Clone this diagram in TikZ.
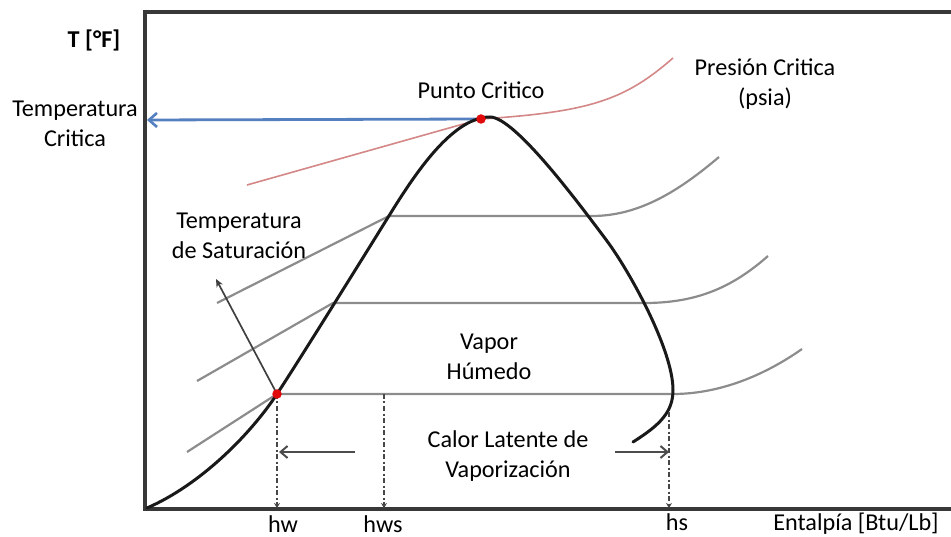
\documentclass[tikz,border=0pt]{standalone}
\usepackage{fontspec}
\setmainfont{Carlito}
\usetikzlibrary{arrows.meta}
\definecolor{critblue}{RGB}{84,128,192}
\definecolor{critred}{RGB}{212,135,135}
\definecolor{dotred}{RGB}{225,10,10}
\begin{document}
\begin{tikzpicture}[x=1pt,y=-1pt,
  lbl/.style={font=\fontsize{24.2}{30}\selectfont, align=center, inner sep=0pt},
  framel/.style={line width=3.2pt, draw=black!78, line join=miter},
  domel/.style={line width=3pt, draw=black!90, line cap=round},
  satl/.style={line width=2.2pt, draw=black!45},
  dropl/.style={line width=2pt, draw=black!72, dash pattern=on 5pt off 2.5pt on 2pt off 2.5pt, -{Stealth[length=5pt,width=6pt]}},
  harrow/.style={line width=2.2pt, draw=black!70, -{Straight Barb[length=7pt,width=12pt,line width=2pt]}},
  dotl/.style={circle, fill=dotred, inner sep=0pt, minimum size=9.5pt},
]
\useasboundingbox (0,0) rectangle (951,537);

% frame
\coordinate (TR) at (951,12);
\coordinate (TL) at (145,12);
\coordinate (BL) at (145,509);
\coordinate (BR) at (951,509);
\draw[framel] (TR) -- (TL) -- (BL) -- (BR);

% key points
\coordinate (CP) at (481,119);
\coordinate (W) at (277,394);
\coordinate (WS) at (384,394);
\coordinate (S) at (669,412);

% critical pressure line (red)
\coordinate (R0) at (247,185);
\coordinate (R1) at (673,58);
\draw[line width=1.6pt, critred] (R0) -- (CP) .. controls (590,112) and (625,100) .. (R1);

% saturation lines
\coordinate (A0) at (217,303);
\coordinate (A1) at (389,216);
\coordinate (A2) at (592,216);
\coordinate (A3) at (719,157);
\draw[satl] (A0) -- (A1) -- (A2) .. controls (640,216) and (680,190) .. (A3);
\coordinate (B0) at (197,381);
\coordinate (B1) at (333,303);
\coordinate (B2) at (645,303);
\coordinate (B3) at (768,256);
\draw[satl] (B0) -- (B1) -- (B2) .. controls (700,303) and (735,285) .. (B3);
\coordinate (C0) at (187,452);
\coordinate (C2) at (673,394);
\coordinate (C3) at (802,349);
\draw[satl] (C0) -- (W) -- (C2) .. controls (720,394) and (765,375) .. (C3);

% blue arrow (critical temperature)
\coordinate (TC) at (147,120);
\draw[line width=2.8pt, critblue, -{Straight Barb[length=8pt,width=14pt,line width=2.6pt]}] (CP) -- (TC);

% dome
\coordinate (D0) at (147,508);
\coordinate (D2) at (387,219);
\coordinate (D3) at (490,117);
\coordinate (D4) at (607,241);
\coordinate (D5) at (673,390);
\coordinate (D6) at (633,442);
\draw[domel] (D0) .. controls (200,485) and (250,435) .. (W)
  .. controls (300,359) and (364,256) .. (D2)
  .. controls (410,182) and (450,117) .. (D3)
  .. controls (515,117) and (580,205) .. (D4)
  .. controls (630,272) and (673,350) .. (D5)
  .. controls (673,412) and (660,425) .. (D6);

% saturation temperature arrow
\coordinate (ST) at (216,279);
\draw[line width=1.7pt, black!75, -{Stealth[length=8pt,width=7pt]}] (W) -- (ST);

% drop lines
\coordinate (Wb) at (277,508);
\coordinate (WSb) at (384,508);
\coordinate (Sb) at (669,508);
\draw[dropl] (W) -- (Wb);
\draw[dropl] (WS) -- (WSb);
\draw[dropl] (S) -- (Sb);

% horizontal arrows
\coordinate (LA0) at (355,452);
\coordinate (LA1) at (279,452);
\coordinate (RA0) at (615,452);
\coordinate (RA1) at (669,452);
\draw[harrow] (LA0) -- (LA1);
\draw[harrow] (RA0) -- (RA1);

% dots
\node[dotl] (dotCP) at (CP) {};
\node[dotl] (dotW) at (W) {};

% labels
\node[lbl, font=\fontsize{24.2}{30}\selectfont\bfseries] (T) at (94,40) {T [°F]};
\node[lbl] (tcrit) at (75,124) {Temperatura\\Critica};
\node[lbl] (pcrit) at (481,90) {Punto Critico};
\node[lbl] (prcrit) at (765,84) {Presión Critica\\(psia)};
\node[lbl] (tsat) at (239,236) {Temperatura\\de Saturación};
\node[lbl] (vap) at (489,357) {Vapor\\Húmedo};
\node[lbl] (calor) at (508,456) {Calor Latente de\\Vaporización};
\node[lbl, anchor=base] (hw) at (283,532) {hw};
\node[lbl, anchor=base] (hws) at (383,532) {hws};
\node[lbl, anchor=base] (hs) at (677,530) {hs};
\node[lbl, anchor=base] (ent) at (856,530) {Entalpía [Btu/Lb]};
\end{tikzpicture}
\end{document}
